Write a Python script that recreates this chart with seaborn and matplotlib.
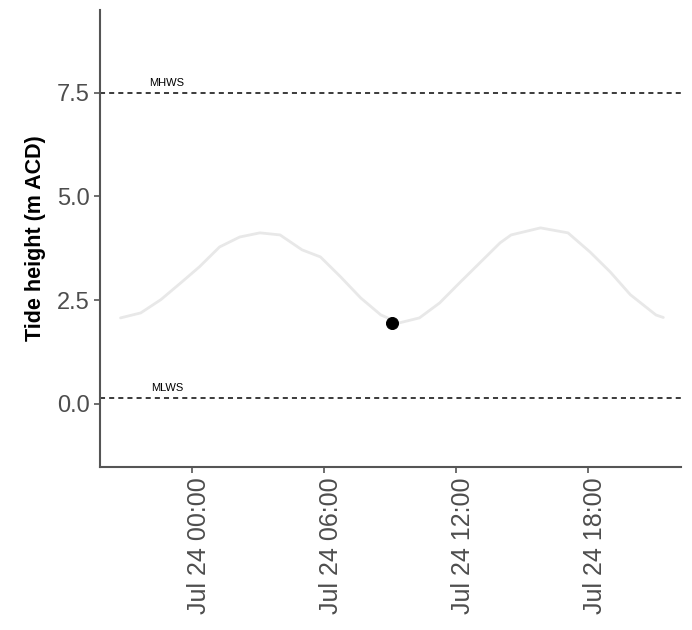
import pandas as pd
import matplotlib
matplotlib.use("Agg")
import matplotlib.pyplot as plt
import matplotlib.dates as mdates
import matplotlib.transforms as mtransforms
import seaborn as sns

# tide curve
times = ["2021-07-23 20:45", "2021-07-23 21:40", "2021-07-23 22:35", "2021-07-23 23:30",
         "2021-07-24 00:20", "2021-07-24 01:15", "2021-07-24 02:10", "2021-07-24 03:05",
         "2021-07-24 04:00", "2021-07-24 05:00", "2021-07-24 05:50", "2021-07-24 06:45",
         "2021-07-24 07:40", "2021-07-24 08:35", "2021-07-24 09:25", "2021-07-24 10:20",
         "2021-07-24 11:15", "2021-07-24 12:10", "2021-07-24 13:05", "2021-07-24 14:00",
         "2021-07-24 14:30", "2021-07-24 15:50", "2021-07-24 17:05", "2021-07-24 18:05",
         "2021-07-24 19:00", "2021-07-24 19:55", "2021-07-24 21:05", "2021-07-24 21:25"]
heights = [2.07, 2.19, 2.51, 2.92, 3.30, 3.78, 4.02, 4.12,
           4.07, 3.71, 3.54, 3.06, 2.55, 2.14, 1.95, 2.07,
           2.43, 2.92, 3.40, 3.88, 4.07, 4.24, 4.12, 3.66,
           3.18, 2.63, 2.14, 2.08]

# current reading
now_time = ["2021-07-24 09:05"]
now_height = [1.95]

# reference levels
levels = ["MHWS", "MLWS"]
level_values = [7.5, 0.15]

df = pd.DataFrame({"time": pd.to_datetime(times), "height": heights})
now = pd.DataFrame({"time": pd.to_datetime(now_time), "height": now_height})

sns.set_theme(style="ticks")
plt.rcParams['font.family'] = ['Liberation Sans', 'DejaVu Sans']

fig = plt.figure(figsize=(6.92, 6.3), dpi=100)
ax = fig.add_axes([0.1445, 0.259, 0.8395, 0.725])

sns.lineplot(data=df, x="time", y="height", color="#e8e8e8", linewidth=2, ax=ax)
sns.scatterplot(data=now, x="time", y="height", color="black", s=75, edgecolor="black", ax=ax, zorder=5)

for name, val in zip(levels, level_values):
    ax.axhline(val, color="#3a3a3a", linewidth=1.4, dashes=(2.6, 2.1))
    ax.text(pd.Timestamp("2021-07-23 22:52"), val + 0.12, name, fontsize=8,
            ha="center", va="bottom", color="black")

ax.set_xlim(pd.Timestamp("2021-07-23 19:49"), pd.Timestamp("2021-07-24 22:13"))
ax.set_ylim(-1.52, 9.49)
ax.set_yticks([0.0, 2.5, 5.0, 7.5])
ax.set_yticklabels(["0.0", "2.5", "5.0", "7.5"])

ax.xaxis.set_major_locator(mdates.HourLocator(byhour=[0, 6, 12, 18]))
ax.xaxis.set_major_formatter(mdates.DateFormatter("%b %d %H:%M"))

ax.set_xlabel("")
ax.set_ylabel("Tide height (m ACD)", fontsize=15.5, fontweight="bold", color="black", labelpad=8)
ax.tick_params(axis="y", labelsize=17, labelcolor="#4d4d4d", color="#555555",
               length=4, width=1.2)
ax.tick_params(axis="x", labelsize=18, labelcolor="#4d4d4d", color="#555555",
               length=4, width=1.2, labelrotation=90)

# labels sit a little to the right of their ticks, as in the original
shift = mtransforms.ScaledTranslation(7 / 100, 0, fig.dpi_scale_trans)
for lab in ax.get_xticklabels():
    lab.set_transform(lab.get_transform() + shift)

sns.despine(ax=ax)
for s in ["left", "bottom"]:
    ax.spines[s].set_color("#555555")
    ax.spines[s].set_linewidth(1.5)

plt.savefig("out.png", dpi=100)
